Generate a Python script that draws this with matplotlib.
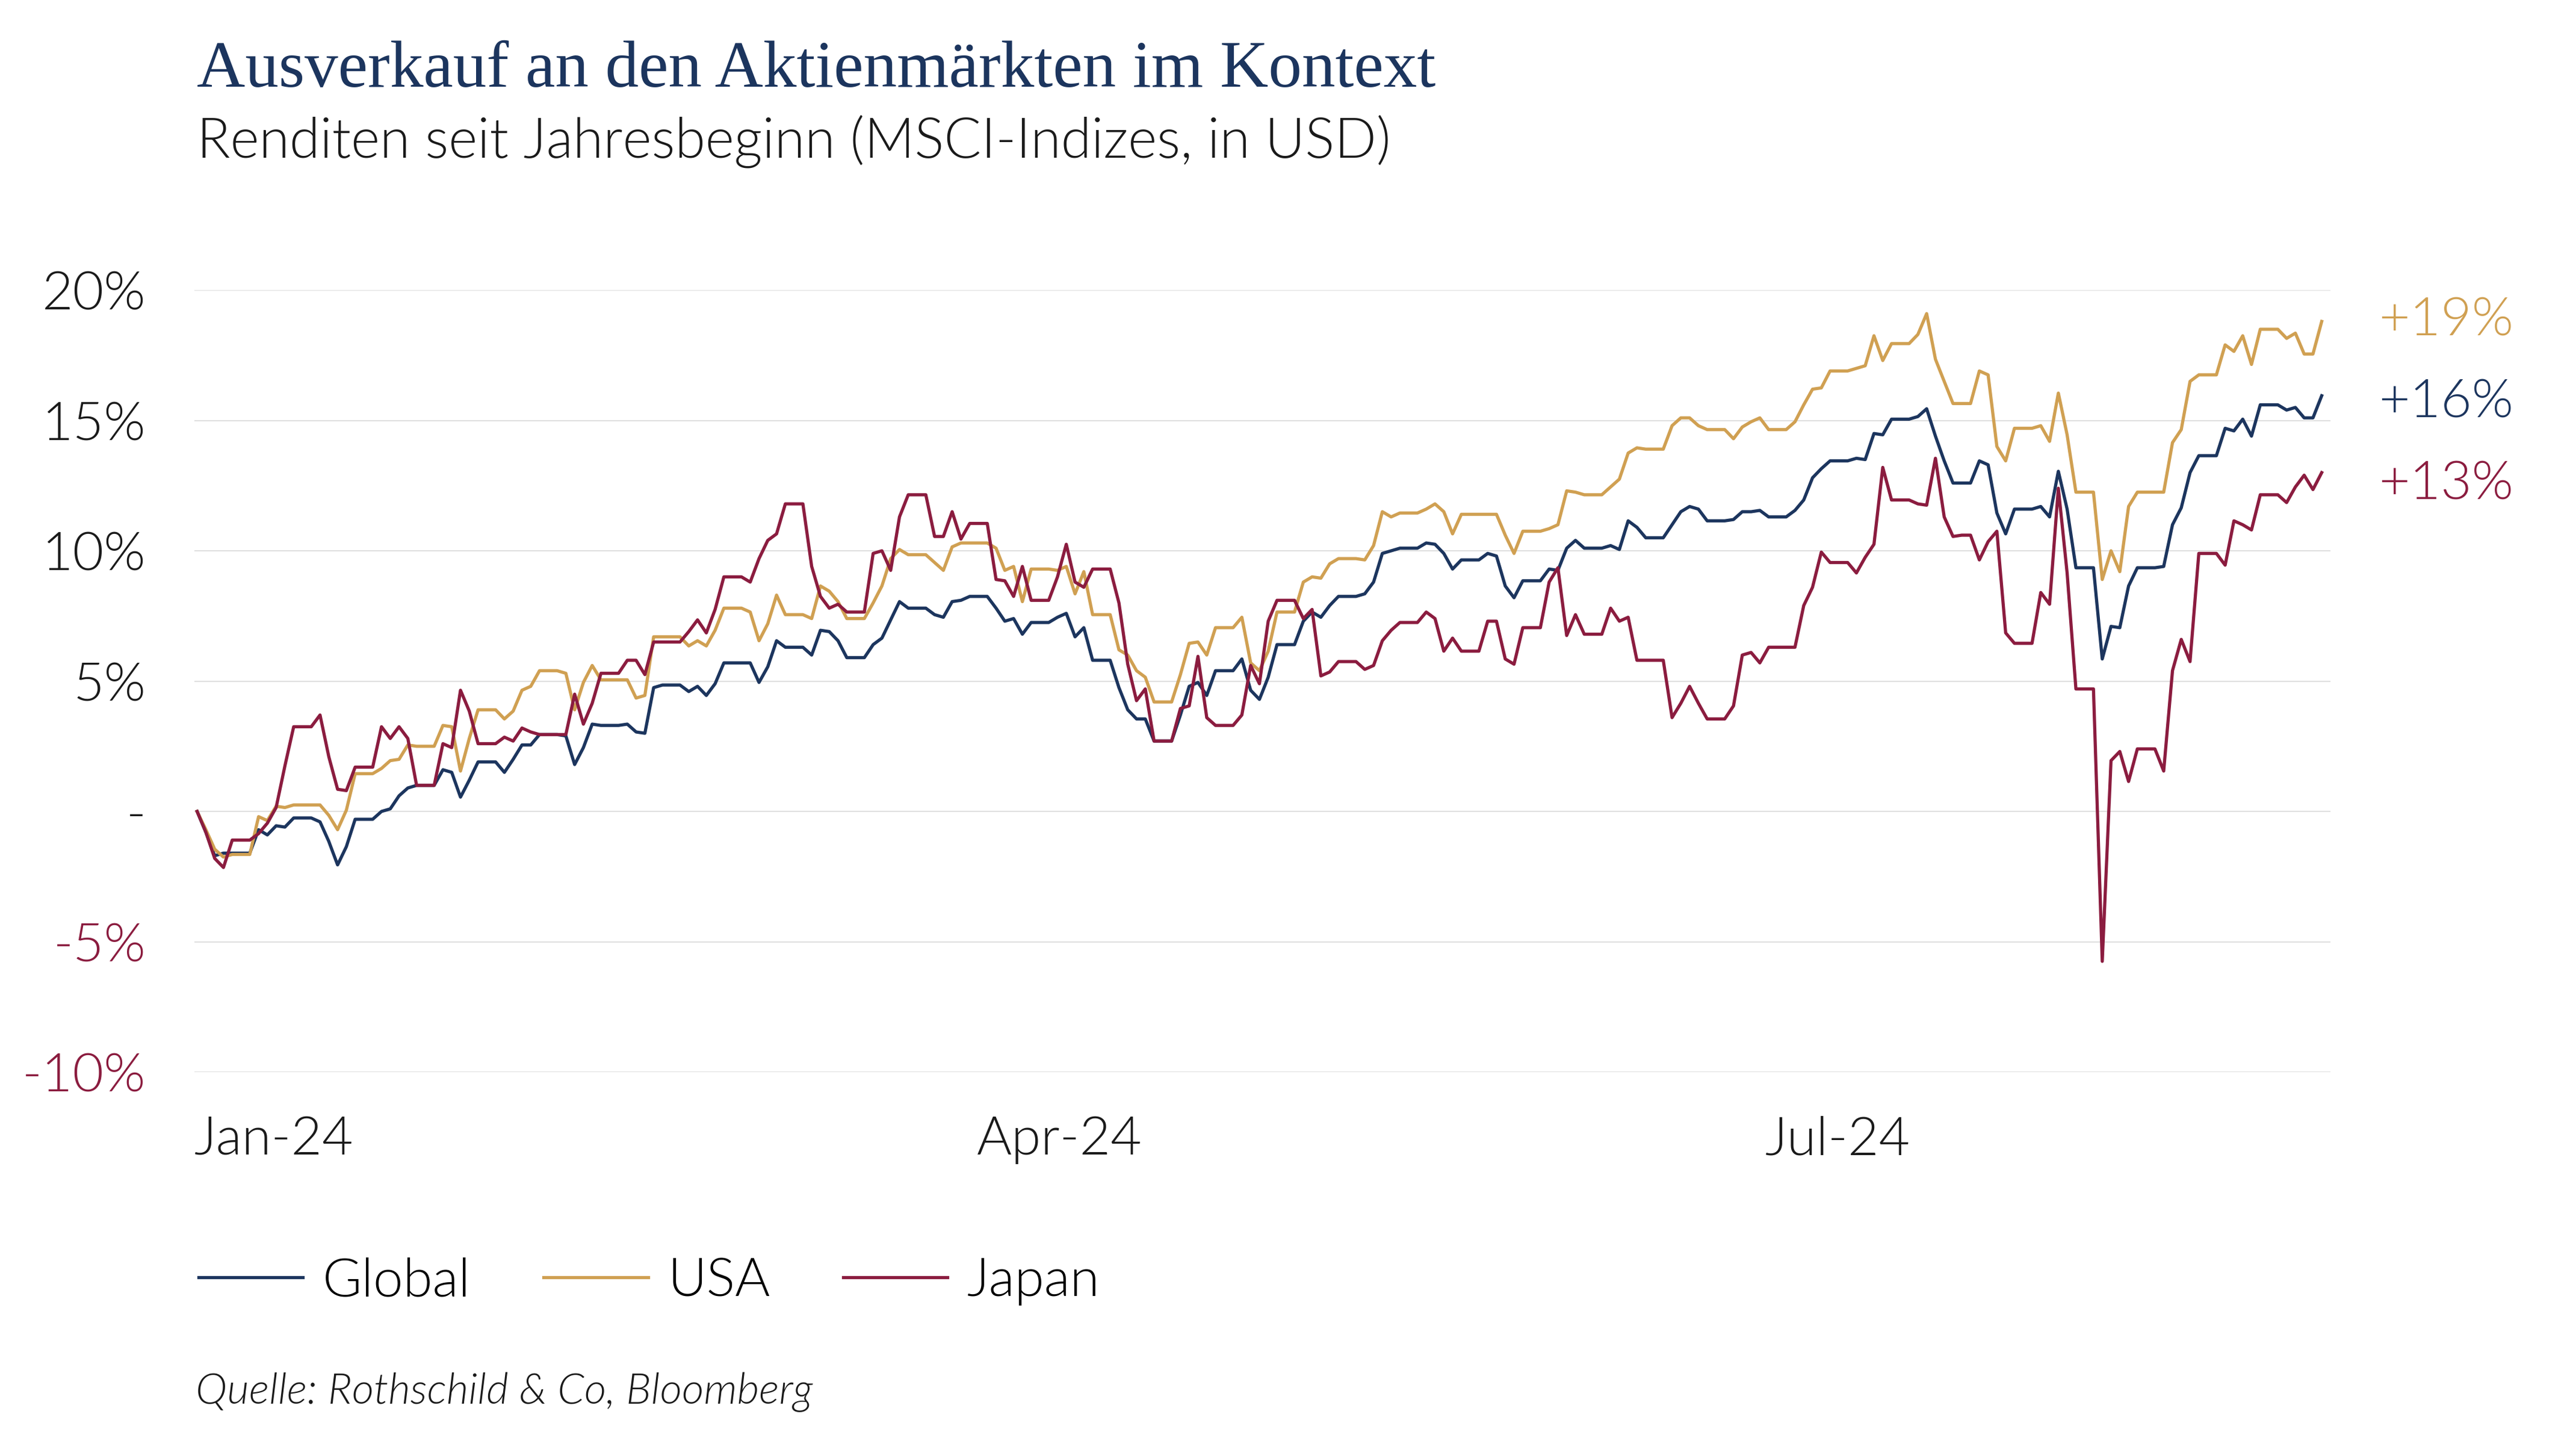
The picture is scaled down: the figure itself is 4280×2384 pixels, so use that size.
import numpy as np
import pandas as pd
import matplotlib
matplotlib.use("Agg")
import matplotlib.pyplot as plt

# YTD returns in %, one value per calendar day (weekends carry Friday's value)
global_ret = [
    0, -0.8, -1.7, -1.6, -1.6, -1.6, -1.6, -0.7, -0.9, -0.55, -0.6, -0.25, -0.25, -0.25,
    -0.4, -1.15, -2.05, -1.35, -0.3, -0.3, -0.3, 0.0, 0.1, 0.6, 0.9, 1.0, 1.0, 1.0,
    1.6, 1.5, 0.55, 1.2, 1.9, 1.9, 1.9, 1.5, 2.0, 2.55, 2.55, 2.95, 2.95, 2.95,
    2.9, 1.8, 2.45, 3.35, 3.3, 3.3, 3.3, 3.35, 3.05, 3.0, 4.75, 4.85, 4.85, 4.85,
    4.6, 4.8, 4.45, 4.9, 5.7, 5.7, 5.7, 5.7, 4.95, 5.55, 6.55, 6.3, 6.3, 6.3,
    6.0, 6.95, 6.9, 6.55, 5.9, 5.9, 5.9, 6.4, 6.65, 7.35, 8.05, 7.8, 7.8, 7.8,
    7.55, 7.45, 8.05, 8.1, 8.25, 8.25, 8.25, 7.8, 7.3, 7.4, 6.8, 7.25, 7.25, 7.25,
    7.45, 7.6, 6.7, 7.05, 5.8, 5.8, 5.8, 4.75, 3.9, 3.55, 3.55, 2.7, 2.7, 2.7,
    3.7, 4.8, 4.95, 4.45, 5.4, 5.4, 5.4, 5.85, 4.65, 4.3, 5.15, 6.4, 6.4, 6.4,
    7.3, 7.65, 7.45, 7.9, 8.25, 8.25, 8.25, 8.35, 8.8, 9.9, 10.0, 10.1, 10.1, 10.1,
    10.3, 10.25, 9.9, 9.3, 9.65, 9.65, 9.65, 9.9, 9.8, 8.65, 8.2, 8.85, 8.85, 8.85,
    9.3, 9.25, 10.1, 10.4, 10.1, 10.1, 10.1, 10.2, 10.05, 11.15, 10.9, 10.5, 10.5, 10.5,
    11.0, 11.5, 11.7, 11.6, 11.15, 11.15, 11.15, 11.2, 11.5, 11.5, 11.55, 11.3, 11.3, 11.3,
    11.55, 11.95, 12.8, 13.15, 13.45, 13.45, 13.45, 13.55, 13.5, 14.5, 14.45, 15.05, 15.05, 15.05,
    15.15, 15.45, 14.4, 13.45, 12.6, 12.6, 12.6, 13.45, 13.3, 11.45, 10.65, 11.6, 11.6, 11.6,
    11.7, 11.3, 13.05, 11.6, 9.35, 9.35, 9.35, 5.85, 7.1, 7.05, 8.65, 9.35, 9.35, 9.35,
    9.4, 11.0, 11.65, 13.0, 13.65, 13.65, 13.65, 14.7, 14.6, 15.05, 14.4, 15.6, 15.6, 15.6,
    15.4, 15.5, 15.1, 15.1, 15.95,
]

usa_ret = [
    0, -0.7, -1.45, -1.75, -1.65, -1.65, -1.65, -0.2, -0.35, 0.2, 0.15, 0.25, 0.25, 0.25,
    0.25, -0.15, -0.7, 0.05, 1.45, 1.45, 1.45, 1.65, 1.95, 2.0, 2.55, 2.5, 2.5, 2.5,
    3.3, 3.25, 1.55, 2.8, 3.9, 3.9, 3.9, 3.55, 3.85, 4.65, 4.8, 5.4, 5.4, 5.4,
    5.3, 3.9, 4.95, 5.6, 5.05, 5.05, 5.05, 5.05, 4.35, 4.45, 6.7, 6.7, 6.7, 6.7,
    6.35, 6.55, 6.35, 6.95, 7.8, 7.8, 7.8, 7.65, 6.55, 7.2, 8.3, 7.55, 7.55, 7.55,
    7.4, 8.65, 8.45, 8.05, 7.4, 7.4, 7.4, 8.0, 8.65, 9.7, 10.05, 9.85, 9.85, 9.85,
    9.55, 9.25, 10.15, 10.3, 10.3, 10.3, 10.3, 10.1, 9.25, 9.4, 8.05, 9.3, 9.3, 9.3,
    9.25, 9.4, 8.35, 9.2, 7.55, 7.55, 7.55, 6.2, 6.0, 5.4, 5.15, 4.2, 4.2, 4.2,
    5.25, 6.45, 6.5, 6.0, 7.05, 7.05, 7.05, 7.45, 5.7, 5.4, 6.15, 7.65, 7.65, 7.65,
    8.8, 9.0, 8.95, 9.5, 9.7, 9.7, 9.7, 9.65, 10.2, 11.5, 11.3, 11.45, 11.45, 11.45,
    11.6, 11.8, 11.5, 10.65, 11.4, 11.4, 11.4, 11.4, 11.4, 10.6, 9.9, 10.75, 10.75, 10.75,
    10.85, 11.0, 12.3, 12.25, 12.15, 12.15, 12.15, 12.45, 12.75, 13.75, 13.95, 13.9, 13.9, 13.9,
    14.8, 15.1, 15.1, 14.8, 14.65, 14.65, 14.65, 14.3, 14.75, 14.95, 15.1, 14.65, 14.65, 14.65,
    14.95, 15.6, 16.2, 16.25, 16.9, 16.9, 16.9, 17.0, 17.1, 18.25, 17.3, 17.95, 17.95, 17.95,
    18.3, 19.1, 17.35, 16.5, 15.65, 15.65, 15.65, 16.9, 16.75, 14.0, 13.45, 14.7, 14.7, 14.7,
    14.8, 14.2, 16.05, 14.45, 12.25, 12.25, 12.25, 8.9, 10.0, 9.2, 11.7, 12.25, 12.25, 12.25,
    12.25, 14.15, 14.65, 16.5, 16.75, 16.75, 16.75, 17.9, 17.65, 18.25, 17.15, 18.5, 18.5, 18.5,
    18.15, 18.35, 17.55, 17.55, 18.8,
]

japan_ret = [
    0, -0.8, -1.8, -2.15, -1.1, -1.1, -1.1, -0.85, -0.45, 0.15, 1.75, 3.25, 3.25, 3.25,
    3.7, 2.1, 0.85, 0.8, 1.7, 1.7, 1.7, 3.25, 2.8, 3.25, 2.8, 1.0, 1.0, 1.0,
    2.6, 2.45, 4.65, 3.85, 2.6, 2.6, 2.6, 2.85, 2.7, 3.2, 3.05, 2.95, 2.95, 2.95,
    2.95, 4.5, 3.35, 4.15, 5.3, 5.3, 5.3, 5.8, 5.8, 5.25, 6.5, 6.5, 6.5, 6.5,
    6.9, 7.35, 6.85, 7.75, 9.0, 9.0, 9.0, 8.8, 9.7, 10.4, 10.65, 11.8, 11.8, 11.8,
    9.4, 8.25, 7.8, 7.95, 7.65, 7.65, 7.65, 9.9, 10.0, 9.25, 11.3, 12.15, 12.15, 12.15,
    10.55, 10.55, 11.5, 10.45, 11.05, 11.05, 11.05, 8.9, 8.85, 8.25, 9.4, 8.1, 8.1, 8.1,
    9.0, 10.25, 8.8, 8.6, 9.3, 9.3, 9.3, 8.0, 5.65, 4.25, 4.7, 2.7, 2.7, 2.7,
    3.95, 4.05, 5.95, 3.6, 3.3, 3.3, 3.3, 3.7, 5.6, 4.9, 7.3, 8.1, 8.1, 8.1,
    7.4, 7.75, 5.2, 5.35, 5.75, 5.75, 5.75, 5.45, 5.6, 6.55, 6.95, 7.25, 7.25, 7.25,
    7.65, 7.4, 6.15, 6.65, 6.15, 6.15, 6.15, 7.3, 7.3, 5.85, 5.65, 7.05, 7.05, 7.05,
    8.8, 9.35, 6.75, 7.55, 6.8, 6.8, 6.8, 7.8, 7.3, 7.45, 5.8, 5.8, 5.8, 5.8,
    3.6, 4.15, 4.8, 4.15, 3.55, 3.55, 3.55, 4.05, 6.0, 6.1, 5.7, 6.3, 6.3, 6.3,
    6.3, 7.9, 8.6, 9.95, 9.55, 9.55, 9.55, 9.15, 9.75, 10.25, 13.2, 11.95, 11.95, 11.95,
    11.8, 11.75, 13.55, 11.3, 10.55, 10.6, 10.6, 9.65, 10.35, 10.75, 6.85, 6.45, 6.45, 6.45,
    8.4, 7.95, 12.4, 9.15, 4.7, 4.7, 4.7, -5.75, 1.95, 2.3, 1.15, 2.4, 2.4, 2.4,
    1.55, 5.4, 6.6, 5.75, 9.9, 9.9, 9.9, 9.45, 11.15, 11.0, 10.8, 12.15, 12.15, 12.15,
    11.85, 12.45, 12.9, 12.35, 13.0,
]

series_names = ["Global", "USA", "Japan"]
x_labels = ["Jan-24", "Apr-24", "Jul-24"]
y_ticks = [-10, -5, 0, 5, 10, 15, 20]
y_labels = ["-10%", "-5%", "-", "5%", "10%", "15%", "20%"]

navy = "#1c355e"
gold = "#d0a052"
crimson = "#8b1c3f"
ink = "#1a1a1a"

plt.rcParams["font.family"] = ["Lato", "DejaVu Sans"]
plt.rcParams["font.weight"] = 300

dates = pd.date_range("2024-01-01", periods=len(global_ret), freq="D")
days = np.arange(len(dates))

fig = plt.figure(figsize=(21.4, 11.92), dpi=200)
ax = fig.add_axes([0.0755, 0.2529, 0.8292, 0.5449])

lines = []
for vals, name, col in zip([global_ret, usa_ret, japan_ret], series_names, [navy, gold, crimson]):
    ln, = ax.plot(days, vals, color=col, lw=1.9, label=name, solid_joinstyle="round")
    lines.append(ln)

ax.set_xlim(-0.2, 243)
ax.set_ylim(-10, 20)
ax.set_yticks(y_ticks)
ax.set_yticklabels(y_labels)
ax.yaxis.grid(True, color="#d9d9d9", lw=0.6)
ax.set_axisbelow(True)
for s in ax.spines.values():
    s.set_visible(False)
ax.tick_params(axis="both", length=0, labelsize=32, colors=ink)
ax.tick_params(axis="y", pad=29)
ax.tick_params(axis="x", pad=26)
for lbl in ax.get_yticklabels():
    if lbl.get_text().startswith("-") and len(lbl.get_text()) > 1:
        lbl.set_color(crimson)

ax.set_xticks([-0.3, 88.8, 178.6])
ax.set_xticklabels(x_labels, ha="left")

# end-of-period labels to the right of the plot
label_y = [15.11, 18.26, 11.97]
for vals, col, yv in zip([global_ret, usa_ret, japan_ret], [navy, gold, crimson], label_y):
    ax.text(1.0225, yv, "+%d%%" % round(vals[-1]), transform=ax.get_yaxis_transform(),
            color=col, fontsize=32, va="baseline", ha="left")

fig.text(0.0764, 0.9396, "Ausverkauf an den Aktienmärkten im Kontext",
         family=["Liberation Serif", "DejaVu Serif"], fontweight="normal",
         fontsize=40, color=navy, va="baseline")
fig.text(0.0764, 0.8897, "Renditen seit Jahresbeginn (MSCI-Indizes, in USD)",
         fontsize=33, color=ink, va="baseline")

fig.legend(handles=lines, labels=series_names, loc="center left",
           bbox_to_anchor=(0.0771, 0.107), ncol=3, frameon=False,
           fontsize=32, handlelength=1.95, handletextpad=0.37,
           columnspacing=1.36, borderpad=0, borderaxespad=0)

fig.text(0.0759, 0.0218, "Quelle: Rothschild & Co, Bloomberg", fontsize=25.5,
         style="italic", color=ink, va="baseline")

fig.savefig("out.png", dpi=200, facecolor="white")
